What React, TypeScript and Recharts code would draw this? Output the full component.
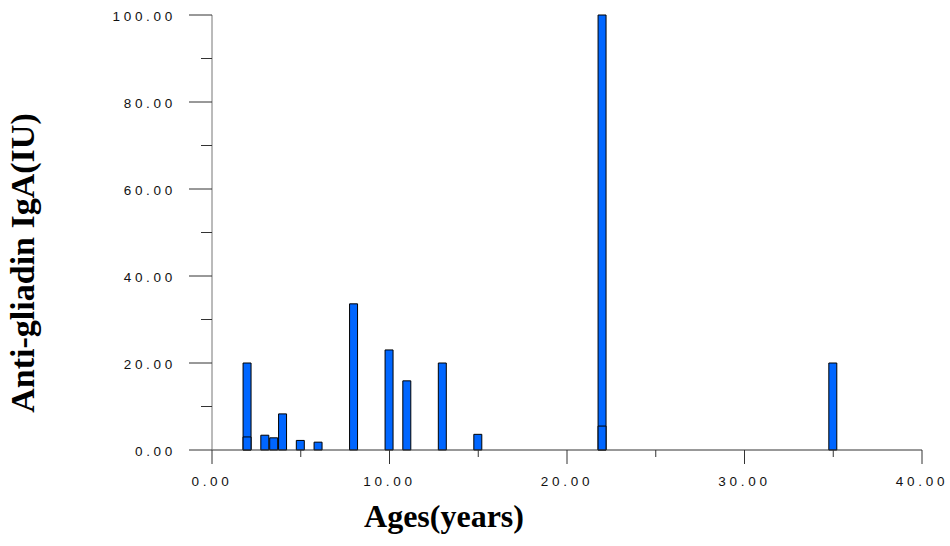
import React from "react";
import { BarChart, Bar, XAxis, YAxis, Label } from "recharts";

// ages (years) and anti-gliadin IgA readings
const ages = [2, 3, 3.5, 4, 5, 6, 8, 10, 11, 13, 15, 22, 35];
const igaValues = [20, 3.4, 2.8, 8.3, 2.2, 1.8, 33.6, 23, 15.9, 20, 3.6, 100, 20];
// second reading at the same age, drawn over the first bar
const overlapAges = [2, 22];
const overlapValues = [3, 5.5];

const xTicks = [0, 5, 10, 15, 20, 25, 30, 35, 40];
const yTicks = [0, 10, 20, 30, 40, 50, 60, 70, 80, 90, 100];

const data = ages.map((age, i) => {
  const k = overlapAges.indexOf(age);
  return { age, iga: igaValues[i], low: k >= 0 ? overlapValues[k] : undefined };
});

const tickFont = {
  fontFamily: "'Liberation Sans', Arial, sans-serif",
  fontSize: 13.5,
  letterSpacing: 3.7,
  fill: "#111",
};

const YTick = (props: any) => {
  const { x, y, payload } = props;
  const major = payload.value % 20 === 0;
  return (
    <g>
      <line x1={x - (major ? 23 : 11)} y1={y} x2={x} y2={y} stroke="#333" />
      {major && (
        <text x={x - 36} y={y + 6} textAnchor="end" {...tickFont}>
          {payload.value.toFixed(2)}
        </text>
      )}
    </g>
  );
};

const XTick = (props: any) => {
  const { x, y, payload } = props;
  const major = payload.value % 10 === 0;
  return (
    <g>
      <line x1={x} y1={y} x2={x} y2={y + (major ? 14 : 7)} stroke="#333" />
      {major && (
        <text x={x} y={y + 36} textAnchor="middle" {...tickFont}>
          {payload.value.toFixed(2)}
        </text>
      )}
    </g>
  );
};

const titleFont = {
  fontFamily: "'Liberation Serif', 'Times New Roman', serif",
  fontWeight: 700,
  fill: "#000",
};

export default function App() {
  return (
    <div style={{ position: "absolute", left: 0, top: 0, background: "#fff" }}>
      <BarChart
        width={950}
        height={546}
        data={data}
        margin={{ top: 15, right: 28, bottom: 0, left: 0 }}
      >
        <XAxis
          xAxisId="main"
          dataKey="age"
          type="number"
          domain={[0, 40]}
          ticks={xTicks}
          height={96}
          axisLine={{ stroke: "#333" }}
          tickLine={false}
          tickSize={0}
          tickMargin={0}
          tick={<XTick />}
        >
          <Label
            content={(p: any) => (
              <text
                x={p.viewBox.x + 232}
                y={p.viewBox.y + 77}
                textAnchor="middle"
                fontSize={32}
                {...titleFont}
              >
                Ages(years)
              </text>
            )}
          />
        </XAxis>
        <XAxis
          xAxisId="over"
          dataKey="age"
          type="number"
          domain={[0, 40]}
          ticks={xTicks}
          hide
        />
        <YAxis
          type="number"
          domain={[0, 100]}
          ticks={yTicks}
          width={212}
          axisLine={{ stroke: "#777" }}
          tickLine={false}
          tickSize={0}
          tickMargin={0}
          tick={<YTick />}
        >
          <Label
            content={(p: any) => {
              const cx = 34;
              const cy = p.viewBox.y + 248;
              return (
                <text
                  x={cx}
                  y={cy}
                  textAnchor="middle"
                  fontSize={34}
                  transform={`rotate(-90 ${cx} ${cy})`}
                  {...titleFont}
                >
                  Anti-gliadin IgA(IU)
                </text>
              );
            }}
          />
        </YAxis>
        <Bar
          xAxisId="main"
          dataKey="iga"
          barSize={9}
          fill="#0066ff"
          stroke="#000"
          strokeWidth={1}
          isAnimationActive={false}
        />
        <Bar
          xAxisId="over"
          dataKey="low"
          barSize={9}
          fill="#0066ff"
          stroke="#000"
          strokeWidth={1}
          isAnimationActive={false}
        />
      </BarChart>
    </div>
  );
}
